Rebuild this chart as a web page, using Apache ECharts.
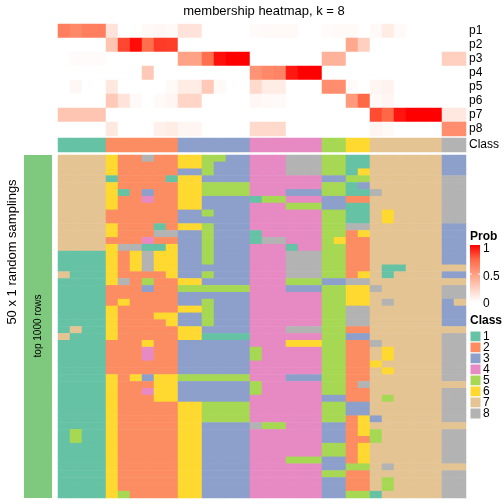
<!DOCTYPE html>
<html><head><meta charset="utf-8">
<script src="https://cdn.jsdelivr.net/npm/echarts@6/dist/echarts.min.js"></script>
<style>html,body{margin:0;padding:0;background:#fff}#c{width:504px;height:504px}</style>
</head><body><div id="c"></div>
<script>
const FONT = "'Liberation Sans', Arial, sans-serif";
const titleText = 'membership heatmap, k = 8';
const probRowNames = ['p1','p2','p3','p4','p5','p6','p7','p8'];
const classNames = ['1','2','3','4','5','6','7','8'];
const classColors = ['#66C2A5','#FC8D62','#8DA0CB','#E78AC3','#A6D854','#FFD92F','#E5C494','#B3B3B3'];
const probTicks = ['1','0.5','0'];
// membership probabilities, 34 columns each
const probP1 = [0.65,0.6,0.65,0.65,0.15,0,0,0.03,0.04,0.03,0.15,0.15,0,0,0,0,0.02,0.03,0.03,0.03,0,0,0.02,0.03,0.03,0,0.03,0.1,0.03,0,0,0,0,0];
const probP2 = [0,0,0,0,0.3,0.83,0.97,0.72,0.86,0.85,0,0,0,0,0,0,0,0,0,0,0,0,0,0,0.45,0.25,0,0,0,0,0,0,0,0];
const probP3 = [0,0.02,0.02,0.02,0,0,0,0,0,0,0.48,0.48,0.72,0.96,1,1,0,0,0,0,0,0,0.4,0.4,0,0,0,0,0,0,0,0,0.25,0.25];
const probP4 = [0,0,0,0,0,0,0,0.28,0,0,0,0,0,0,0,0,0.55,0.6,0.62,0.94,1,1,0,0,0,0,0,0,0,0,0,0,0,0];
const probP5 = [0,0.04,0,0,0.12,0,0,0,0,0.03,0.1,0.1,0.28,0.03,0,0,0.2,0.1,0.1,0,0,0,0.58,0.58,0.02,0,0.05,0.06,0,0,0,0,0,0];
const probP6 = [0,0,0,0,0.28,0.15,0.03,0,0.03,0.05,0.22,0.22,0,0,0,0,0.04,0.03,0.03,0,0,0,0,0,0.52,0.75,0.03,0.05,0,0,0,0,0,0];
const probP7 = [0.3,0.3,0.3,0.3,0,0,0,0,0,0,0,0,0,0,0,0,0,0,0,0,0,0,0,0,0,0,0.82,0.75,0.95,1,1,1,0.12,0.12];
const probP8 = [0,0,0,0,0.12,0,0,0,0.08,0.1,0.05,0.05,0,0,0,0,0.2,0.2,0.2,0,0,0,0,0,0,0,0.05,0.03,0,0,0,0,0.58,0.58];
const classRow = [1,1,1,1,2,2,2,2,2,2,3,3,3,3,3,3,4,4,4,4,4,4,5,5,6,6,7,7,7,7,7,7,8,8];
// 50 random samplings: predicted class per column (one digit per column)
const samplingRows = [
'7777622822665533444888551177777733',
'7777622222665333444888551177777733',
'7777622222335333444888551677777733',
'7777122221663333444444335577777788',
'7777622222665555444444551377777788',
'7777612322665555444333551187777788',
'7777622422663333155444332277777788',
'7777622222663333444555331177777788',
'7777222222335333444444551176777788',
'7777222222333333444444551176777788',
'7777622212665333444444558877777733',
'7777622288335333144444552677777733',
'7777222422335333188444562277777733',
'7777688116335333444144552277777733',
'1111626866335333444888552277777733',
'1111626866335333444888552277777733',
'1111626866333333444888552271177777',
'7111622226335333444888552671777733',
'1111682522663333444555338877777777',
'1111222322555555444333556687777788',
'1111222222333333444444556677777788',
'1111262222335333444444556678777737',
'1111622222665333444444558877777733',
'1111622266335333444444558877777733',
'1111622226335333444444558877777733',
'1711622222663333444888552277777777',
'7111622222661111444444553377777788',
'1111222622333333444666552287777788',
'1111222422333333544444552276777788',
'1111222422333333544444552276777788',
'1111222222333333444444552267777788',
'1111222222333333444444552276777788',
'1111626366555555444333552277777788',
'1111622266333333544444552877777777',
'1111622466333333544444552277777788',
'1111622266333333444444332275777788',
'1111622222665555444444553377777788',
'1111622222665555444444553377777788',
'1111622222665555444444552637777788',
'1111622222663333855444332677777777',
'1511622222663333444444332657777788',
'1511622222663333444444332257777788',
'1111622222663333444444552677777788',
'1111622222663333444444552677777788',
'1111622222663333444555332677777788',
'1111622222663333444444335578777777',
'1111622222663333444444552277777788',
'1111622222663333444444332275777788',
'1111622222663333444444332275777788',
'1111652222663333444444335517777788'
];

const probRows = [probP1,probP2,probP3,probP4,probP5,probP6,probP7,probP8];
const colCats = classRow.map((_, i) => String(i));
const rowCats = samplingRows.map((_, i) => String(i));

const probData = [];
probRows.forEach((row, r) => row.forEach((v, c) => probData.push([c, r, v])));
const classData = classRow.map((v, c) => [c, 0, v]);
const sampData = [];
samplingRows.forEach((s, r) => s.split('').forEach((ch, c) => sampData.push([c, r, Number(ch)])));

const GL = 58, GW = 408;
const grids = [
  {left: GL, top: 24, width: GW, height: 112},
  {left: GL, top: 138, width: GW, height: 14},
  {left: GL, top: 155, width: GW, height: 343}
];
const hidden = {show: false};
const xAxes = grids.map((g, i) => ({type: 'category', gridIndex: i, data: colCats, show: false}));
const yLab = {fontSize: 12, color: '#000', fontFamily: FONT, margin: 3, interval: 0};
const yAxes = [
  {type: 'category', gridIndex: 0, data: probRowNames, inverse: true, position: 'right',
   axisLine: hidden, axisTick: hidden, splitLine: hidden, axisLabel: yLab},
  {type: 'category', gridIndex: 1, data: ['Class'], position: 'right',
   axisLine: hidden, axisTick: hidden, splitLine: hidden, axisLabel: yLab},
  {type: 'category', gridIndex: 2, data: rowCats, inverse: true, show: false}
];

const probColors = ['#FFFFFF','#FFCFBF','#FF9E81','#FF6846','#FF0000'];

// legend graphics
const graphics = [];
graphics.push({type: 'text', x: 264, y: 11, style: {text: titleText, font: '13px ' + FONT, fill: '#000', textAlign: 'center', textVerticalAlign: 'middle'}});
graphics.push({type: 'rect', shape: {x: 24, y: 155, width: 28, height: 343}, style: {fill: '#7FC97F'}});
graphics.push({type: 'text', x: 38, y: 326, rotation: Math.PI / 2, style: {text: 'top 1000 rows', font: '10px ' + FONT, fill: '#000', textAlign: 'center', textVerticalAlign: 'middle'}});
graphics.push({type: 'text', x: 12, y: 252, rotation: Math.PI / 2, style: {text: '50 x 1 random samplings', font: '13px ' + FONT, fill: '#000', textAlign: 'center', textVerticalAlign: 'middle'}});
// Prob legend
const LX = 470, barTop = 245, barH = 57;
graphics.push({type: 'text', x: LX, y: 237, style: {text: 'Prob', font: 'bold 12px ' + FONT, fill: '#000', textVerticalAlign: 'middle'}});
graphics.push({type: 'rect', shape: {x: LX, y: barTop, width: 10, height: barH}, style: {
  fill: new echarts.graphic.LinearGradient(0, 0, 0, 1, probColors.slice().reverse().map((c, i) => ({offset: i / (probColors.length - 1), color: c})))}});
graphics.push({type: 'line', shape: {x1: LX, y1: barTop + 29, x2: LX + 2, y2: barTop + 29}, style: {stroke: '#fff', lineWidth: 1}});
graphics.push({type: 'line', shape: {x1: LX + 8, y1: barTop + 29, x2: LX + 10, y2: barTop + 29}, style: {stroke: '#fff', lineWidth: 1}});
probTicks.forEach((t, i) => graphics.push({type: 'text', x: LX + 13, y: barTop + 4 + i * 27.5, style: {text: t, font: '12px ' + FONT, fill: '#000', textVerticalAlign: 'middle'}}));
// Class legend
graphics.push({type: 'text', x: LX, y: 321, style: {text: 'Class', font: 'bold 12px ' + FONT, fill: '#000', textVerticalAlign: 'middle'}});
classNames.forEach((n, i) => {
  graphics.push({type: 'rect', shape: {x: LX, y: 331 + i * 11, width: 11, height: 11}, style: {fill: classColors[i], stroke: '#fff', lineWidth: 1}});
  graphics.push({type: 'text', x: LX + 13, y: 337 + i * 11, style: {text: n, font: '12px ' + FONT, fill: '#000', textVerticalAlign: 'middle'}});
});

const chart = echarts.init(document.getElementById('c'), null, {renderer: 'canvas'});
chart.setOption({
  animation: false,
  backgroundColor: '#fff',
  grid: grids,
  xAxis: xAxes,
  yAxis: yAxes,
  visualMap: [
    {type: 'continuous', seriesIndex: 0, min: 0, max: 1, show: false, inRange: {color: probColors}},
    {type: 'piecewise', seriesIndex: [1, 2], show: false,
     pieces: classNames.map((n, i) => ({value: i + 1, color: classColors[i]}))}
  ],
  series: [
    {type: 'heatmap', xAxisIndex: 0, yAxisIndex: 0, data: probData, emphasis: {disabled: true}, progressive: 0},
    {type: 'heatmap', xAxisIndex: 1, yAxisIndex: 1, data: classData, emphasis: {disabled: true}, progressive: 0},
    {type: 'heatmap', xAxisIndex: 2, yAxisIndex: 2, data: sampData, emphasis: {disabled: true}, progressive: 0}
  ],
  graphic: graphics
});
</script></body></html>
